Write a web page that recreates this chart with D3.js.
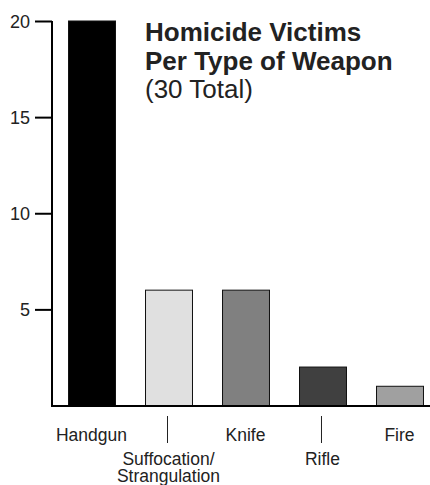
<!DOCTYPE html>
<html><head><meta charset="utf-8">
<script src="https://cdn.jsdelivr.net/npm/d3@7"></script>
<style>body{margin:0;background:#fff}svg{display:block;font-family:"Liberation Sans",Arial,Helvetica,sans-serif}</style>
</head><body><svg id="c" width="430" height="485"></svg>
<script>
const categories = ["Handgun","Suffocation/Strangulation","Knife","Rifle","Fire"];
const values = [20,6,6,2,1];
const colors = ["#000000","#e0e0e0","#808080","#404040","#a0a0a0"];
const yTicks = [5,10,15,20];
const labelLines = [["Handgun"],["Suffocation/","Strangulation"],["Knife"],["Rifle"],["Fire"]];
const labelRow = [0,1,0,1,0];
const titleLines = ["Homicide Victims","Per Type of Weapon"];
const subtitle = "(30 Total)";

const svg = d3.select("#c");
const x = d3.scaleBand().domain(categories).range([52,439]).paddingInner(0.39).paddingOuter(0.208);
const y = d3.scaleLinear().domain([0,20]).range([405.5,21]);

svg.append("g").selectAll("rect").data(categories).join("rect")
  .attr("x",d=>x(d)+0.5).attr("y",(d,i)=>y(values[i]))
  .attr("width",x.bandwidth()).attr("height",(d,i)=>y(0)-y(values[i]))
  .attr("fill",(d,i)=>colors[i]).attr("stroke","#111").attr("stroke-width",1);

const yAxis = d3.axisLeft(y).tickValues(yTicks).tickSize(17).tickPadding(5).tickSizeOuter(0);
const ga = svg.append("g").attr("transform","translate(52,0)").call(yAxis);
ga.select(".domain").attr("d","M0,"+y(20)+"V"+(y(0)+1)).attr("stroke","#000").attr("stroke-width",2);
ga.selectAll(".tick line").attr("stroke","#000").attr("stroke-width",2);
ga.selectAll(".tick text").attr("font-size",18).attr("fill","#222").attr("font-family","inherit").attr("dy","0.36em");

svg.append("line").attr("x1",51).attr("x2",430).attr("y1",y(0)+0.5).attr("y2",y(0)+0.5)
  .attr("stroke","#000").attr("stroke-width",2);

const gl = svg.append("g").attr("font-size",17.5).attr("fill","#222").attr("text-anchor","middle");
categories.forEach((c,i)=>{
  const cx = x(c)+x.bandwidth()/2;
  if(labelRow[i]===0){
    gl.append("text").attr("x",cx).attr("y",441).text(labelLines[i][0]);
  } else {
    gl.append("line").attr("x1",cx-1).attr("x2",cx-1).attr("y1",416).attr("y2",443).attr("stroke","#222").attr("stroke-width",1);
    labelLines[i].forEach((t,j)=>gl.append("text").attr("x",cx).attr("y",465+j*16.5).text(t));
  }
});

const gt = svg.append("g").attr("fill","#222");
titleLines.forEach((t,i)=>gt.append("text").attr("x",145).attr("y",41+i*29).attr("font-size",26).attr("font-weight","bold").text(t));
gt.append("text").attr("x",145).attr("y",98).attr("font-size",26).text(subtitle);
</script></body></html>
